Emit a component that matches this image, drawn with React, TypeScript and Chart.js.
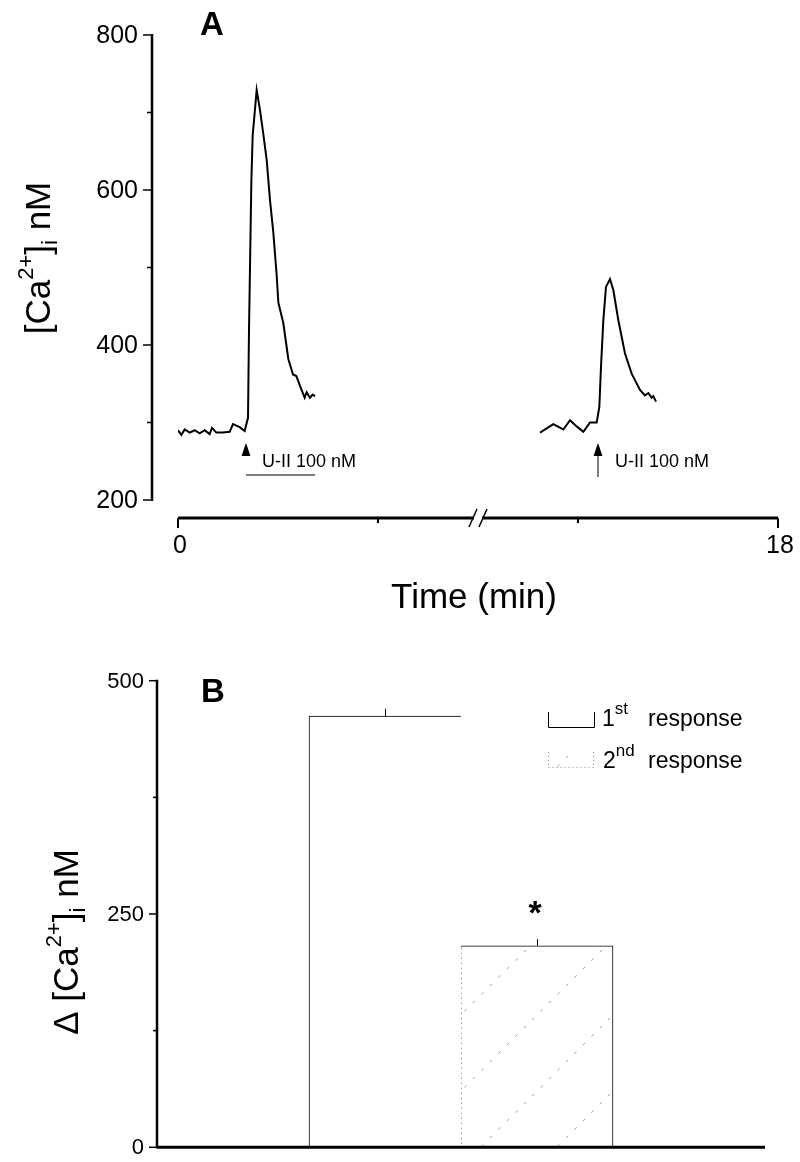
import React, { useEffect, useRef } from "react";
import { Chart, registerables } from "chart.js";
Chart.register(...registerables);

const FONT = "'Liberation Sans', Arial, Helvetica, sans-serif";

// ---------- Panel A data ----------
const trace1Time = [0, 0.1, 0.2, 0.35, 0.5, 0.65, 0.8, 0.95, 1.02, 1.15, 1.35, 1.55, 1.65, 1.85, 2.0, 2.1, 2.13, 2.16, 2.2, 2.24, 2.36, 2.46, 2.56, 2.66, 2.76, 2.86, 2.96, 3.01, 3.16, 3.31, 3.45, 3.55, 3.68, 3.8, 3.86, 3.96, 4.04, 4.11];
const trace1Ca = [290, 284, 291, 287, 290, 286, 290, 285, 293, 287, 287, 288, 298, 294, 289, 306, 420, 500, 610, 670, 729, 703, 672, 639, 587, 545, 490, 455, 428, 382, 362, 360, 345, 332, 339, 332, 336, 334];
const trace2Time = [10.86, 11.26, 11.56, 11.76, 11.96, 12.16, 12.36, 12.56, 12.64, 12.69, 12.76, 12.84, 12.96, 13.06, 13.21, 13.41, 13.61, 13.86, 14.01, 14.11, 14.21, 14.26, 14.34];
const trace2Ca = [287, 298, 291, 303, 295, 288, 300, 300, 320, 372, 432, 475, 485, 471, 432, 389, 363, 342, 335, 338, 332, 334, 327];

const yMajorA = [200, 400, 600, 800];
const yMinorA = [300, 500, 700];
const xMajorA = [0, 18];
const xMinorA = [6, 12];
const xBreakA = 9;
const injectionTimes = [2.04, 12.6];
const injectionLabel = "U-II 100 nM";
const xTitleA = "Time (min)";

// ---------- Panel B data ----------
const barCategories = ["", "1st response", "2nd response", ""];
const barMeans: (number | null)[] = [null, 462, 216, null];
const barErrors: (number | null)[] = [null, 8, 7, null];
const yMajorB = [0, 250, 500];
const yMinorB = [125, 375];

type Part = { t: string; size: number; dy: number; bold?: boolean };

function partsWidth(ctx: CanvasRenderingContext2D, parts: Part[]) {
  let w = 0;
  for (const p of parts) {
    ctx.font = `${p.bold ? "bold " : ""}${p.size}px ${FONT}`;
    w += ctx.measureText(p.t).width;
  }
  return w;
}

function drawParts(ctx: CanvasRenderingContext2D, parts: Part[], x: number, y: number) {
  let cx = x;
  ctx.textAlign = "left";
  ctx.textBaseline = "alphabetic";
  for (const p of parts) {
    ctx.font = `${p.bold ? "bold " : ""}${p.size}px ${FONT}`;
    ctx.fillText(p.t, cx, y + p.dy);
    cx += ctx.measureText(p.t).width;
  }
}

function drawRotatedCentered(ctx: CanvasRenderingContext2D, parts: Part[], baseX: number, centerY: number) {
  ctx.save();
  ctx.translate(baseX, centerY);
  ctx.rotate(-Math.PI / 2);
  const w = partsWidth(ctx, parts);
  drawParts(ctx, parts, -w / 2, 0);
  ctx.restore();
}

function makeHatch(): CanvasPattern | string {
  const s = 76;
  const c = document.createElement("canvas");
  c.width = s;
  c.height = s;
  const g = c.getContext("2d");
  if (!g) return "white";
  g.fillStyle = "white";
  g.fillRect(0, 0, s, s);
  g.strokeStyle = "#a0a0a0";
  g.lineWidth = 1;
  g.setLineDash([3, 9]);
  g.beginPath();
  g.moveTo(0, s);
  g.lineTo(s, 0);
  g.stroke();
  const p = g.createPattern(c, "repeat");
  return p || "white";
}

const pluginA = {
  id: "decorA",
  afterDraw(chart: any) {
    const { ctx, chartArea } = chart;
    const x = chart.scales.x;
    const y = chart.scales.y;
    ctx.save();
    ctx.strokeStyle = "#000";
    ctx.fillStyle = "#000";
    ctx.setLineDash([]);

    // Y axis (detached to the left)
    const axX = chartArea.left - 26;
    ctx.lineWidth = 2.5;
    ctx.beginPath();
    ctx.moveTo(axX, y.getPixelForValue(800) - 1);
    ctx.lineTo(axX, y.getPixelForValue(200) + 1);
    ctx.stroke();
    ctx.lineWidth = 1.5;
    for (const v of yMajorA) {
      const py = y.getPixelForValue(v);
      ctx.beginPath();
      ctx.moveTo(axX - 9, py);
      ctx.lineTo(axX, py);
      ctx.stroke();
    }
    for (const v of yMinorA) {
      const py = y.getPixelForValue(v);
      ctx.beginPath();
      ctx.moveTo(axX - 5, py);
      ctx.lineTo(axX, py);
      ctx.stroke();
    }
    ctx.font = `25px ${FONT}`;
    ctx.textAlign = "right";
    ctx.textBaseline = "middle";
    for (const v of yMajorA) {
      ctx.fillText(String(v), axX - 14, y.getPixelForValue(v) + 1);
    }

    // X axis (detached below), with break
    const axY = y.getPixelForValue(200) + 18;
    const bx = x.getPixelForValue(xBreakA);
    ctx.lineWidth = 3;
    ctx.beginPath();
    ctx.moveTo(x.getPixelForValue(0), axY);
    ctx.lineTo(bx - 4, axY);
    ctx.moveTo(bx + 4, axY);
    ctx.lineTo(x.getPixelForValue(18), axY);
    ctx.stroke();
    ctx.lineWidth = 1.5;
    ctx.beginPath();
    ctx.moveTo(bx - 9, axY + 9);
    ctx.lineTo(bx - 1, axY - 9);
    ctx.moveTo(bx + 1, axY + 9);
    ctx.lineTo(bx + 9, axY - 9);
    ctx.stroke();
    ctx.lineWidth = 2;
    for (const v of xMajorA) {
      const px = x.getPixelForValue(v);
      ctx.beginPath();
      ctx.moveTo(px, axY);
      ctx.lineTo(px, axY + 10);
      ctx.stroke();
    }
    for (const v of xMinorA) {
      const px = x.getPixelForValue(v);
      ctx.beginPath();
      ctx.moveTo(px, axY);
      ctx.lineTo(px, axY + 5);
      ctx.stroke();
    }
    ctx.font = `25px ${FONT}`;
    ctx.textAlign = "center";
    ctx.textBaseline = "middle";
    for (const v of xMajorA) {
      ctx.fillText(String(v), x.getPixelForValue(v) + 2, axY + 28);
    }
    ctx.font = `35px ${FONT}`;
    ctx.fillText(xTitleA, (x.getPixelForValue(0) + x.getPixelForValue(18)) / 2 - 4, axY + 80);

    // Y title
    drawRotatedCentered(
      ctx,
      [
        { t: "[Ca", size: 35, dy: 0 },
        { t: "2+", size: 22, dy: -17 },
        { t: "]", size: 35, dy: 0 },
        { t: "i", size: 22, dy: 7 },
        { t: " nM", size: 35, dy: 0 },
      ],
      50,
      258
    );

    // Panel letter
    ctx.font = `bold 33px ${FONT}`;
    ctx.textAlign = "center";
    ctx.textBaseline = "alphabetic";
    ctx.fillText("A", 212, 35);

    // Injection arrows
    const tipY = y.getPixelForValue(200) - 57;
    injectionTimes.forEach((t, i) => {
      const px = x.getPixelForValue(t);
      ctx.beginPath();
      ctx.moveTo(px, tipY);
      ctx.lineTo(px - 4.5, tipY + 13);
      ctx.lineTo(px + 4.5, tipY + 13);
      ctx.closePath();
      ctx.fill();
      ctx.lineWidth = 1;
      if (i === 1) {
        ctx.beginPath();
        ctx.moveTo(px, tipY + 12);
        ctx.lineTo(px, tipY + 34);
        ctx.stroke();
      } else {
        ctx.beginPath();
        ctx.moveTo(px, tipY + 32);
        ctx.lineTo(px + 69, tipY + 32);
        ctx.stroke();
      }
      ctx.font = `18px ${FONT}`;
      ctx.textAlign = "left";
      ctx.textBaseline = "middle";
      ctx.fillText(injectionLabel, px + (i === 0 ? 16 : 17), tipY + 19);
    });
    ctx.restore();
  },
};

const pluginB = {
  id: "decorB",
  afterDraw(chart: any) {
    const { ctx, chartArea } = chart;
    const x = chart.scales.x;
    const y = chart.scales.y;
    ctx.save();
    ctx.strokeStyle = "#000";
    ctx.fillStyle = "#000";

    const axX = chartArea.left;
    const y0 = y.getPixelForValue(0);
    // axes
    ctx.lineWidth = 2.5;
    ctx.beginPath();
    ctx.moveTo(axX, y.getPixelForValue(500) - 1);
    ctx.lineTo(axX, y0 + 1);
    ctx.stroke();
    ctx.lineWidth = 3;
    ctx.beginPath();
    ctx.moveTo(axX, y0);
    ctx.lineTo(chartArea.right, y0);
    ctx.stroke();
    ctx.lineWidth = 1.5;
    for (const v of yMajorB) {
      const py = y.getPixelForValue(v);
      ctx.beginPath();
      ctx.moveTo(axX - 8, py);
      ctx.lineTo(axX, py);
      ctx.stroke();
    }
    for (const v of yMinorB) {
      const py = y.getPixelForValue(v);
      ctx.beginPath();
      ctx.moveTo(axX - 4, py);
      ctx.lineTo(axX, py);
      ctx.stroke();
    }
    ctx.font = `22px ${FONT}`;
    ctx.textAlign = "right";
    ctx.textBaseline = "middle";
    for (const v of yMajorB) {
      ctx.fillText(String(v), axX - 13, y.getPixelForValue(v) + 1);
    }

    // error bars
    ctx.lineWidth = 1;
    barMeans.forEach((m, i) => {
      const e = barErrors[i];
      if (m == null || e == null) return;
      const px = Math.round(x.getPixelForValue(i)) + 0.5;
      ctx.beginPath();
      ctx.moveTo(px, y.getPixelForValue(m));
      ctx.lineTo(px, y.getPixelForValue(m + e));
      ctx.stroke();
    });

    // dotted left edge of second bar
    const meta = chart.getDatasetMeta(0);
    const bar2 = meta.data[2];
    if (bar2) {
      const left = Math.round(bar2.x - bar2.width / 2) + 0.5;
      ctx.save();
      ctx.strokeStyle = "#777";
      ctx.setLineDash([1, 4]);
      ctx.beginPath();
      ctx.moveTo(left, bar2.y + 2);
      ctx.lineTo(left, y0);
      ctx.stroke();
      ctx.restore();
    }

    // significance star
    ctx.font = `bold 34px ${FONT}`;
    ctx.textAlign = "center";
    ctx.textBaseline = "alphabetic";
    ctx.fillText("*", x.getPixelForValue(2) - 2, y.getPixelForValue(216) - 22);

    // legend
    ctx.lineWidth = 1;
    ctx.beginPath();
    ctx.moveTo(548.5, 72);
    ctx.lineTo(548.5, 87.5);
    ctx.lineTo(594.5, 87.5);
    ctx.lineTo(594.5, 72);
    ctx.stroke();
    ctx.save();
    ctx.fillStyle = chart.$hatch || "white";
    ctx.fillRect(548, 112, 46, 16);
    ctx.strokeStyle = "#888";
    ctx.setLineDash([1, 3]);
    ctx.beginPath();
    ctx.moveTo(548.5, 112);
    ctx.lineTo(548.5, 128);
    ctx.moveTo(548.5, 127.5);
    ctx.lineTo(593.5, 127.5);
    ctx.moveTo(593.5, 112);
    ctx.lineTo(593.5, 128);
    ctx.stroke();
    ctx.restore();
    ctx.fillStyle = "#000";
    drawParts(ctx, [
      { t: "1", size: 23, dy: 0 },
      { t: "st", size: 17, dy: -12 },
    ], 602, 86);
    drawParts(ctx, [
      { t: "2", size: 23, dy: 0 },
      { t: "nd", size: 17, dy: -12 },
    ], 603, 128);
    ctx.font = `23px ${FONT}`;
    ctx.fillText("response", 648, 86);
    ctx.fillText("response", 648, 128);

    // panel letter
    ctx.font = `bold 33px ${FONT}`;
    ctx.textAlign = "center";
    ctx.fillText("B", 213, 62);

    // y title
    drawRotatedCentered(
      ctx,
      [
        { t: "\u0394 [Ca", size: 35, dy: 0 },
        { t: "2+", size: 22, dy: -17 },
        { t: "]", size: 35, dy: 0 },
        { t: "i", size: 22, dy: 7 },
        { t: " nM", size: 35, dy: 0 },
      ],
      78,
      302
    );
    ctx.restore();
  },
};

export default function App() {
  const refA = useRef<HTMLCanvasElement | null>(null);
  const refB = useRef<HTMLCanvasElement | null>(null);

  useEffect(() => {
    document.body.style.margin = "0";
    const charts: Chart[] = [];
    if (refA.current) {
      const chartA = new Chart(refA.current, {
        type: "line",
        data: {
          datasets: [
            {
              data: trace1Time.map((t, i) => ({ x: t, y: trace1Ca[i] })),
              borderColor: "#000",
              borderWidth: 2,
              pointRadius: 0,
              tension: 0,
            },
            {
              data: trace2Time.map((t, i) => ({ x: t, y: trace2Ca[i] })),
              borderColor: "#000",
              borderWidth: 2,
              pointRadius: 0,
              tension: 0,
            },
          ],
        },
        options: {
          responsive: false,
          animation: false,
          layout: { padding: { left: 178, right: 22, top: 35, bottom: 140 } },
          scales: {
            x: { type: "linear", min: 0, max: 18, display: false },
            y: { type: "linear", min: 200, max: 800, display: false },
          },
          plugins: { legend: { display: false }, tooltip: { enabled: false } },
        },
        plugins: [pluginA],
      });
      charts.push(chartA);
    }
    if (refB.current) {
      const hatch = makeHatch();
      const chartB: any = new Chart(refB.current, {
        type: "bar",
        data: {
          labels: barCategories,
          datasets: [
            {
              data: barMeans as any,
              backgroundColor: ["white", "white", hatch as any, "white"],
              borderColor: "#000",
              borderWidth: ((c: any) =>
                c.dataIndex === 1
                  ? { top: 1, left: 1, right: 0, bottom: 0 }
                  : { top: 1, left: 0, right: 1, bottom: 0 }) as any,
              borderSkipped: false,
              barPercentage: 1,
              categoryPercentage: 1,
            },
          ],
        },
        options: {
          responsive: false,
          animation: false,
          layout: { padding: { left: 157, right: 35, top: 40.7, bottom: 14.7 } },
          scales: {
            x: { type: "category", display: false },
            y: { type: "linear", min: 0, max: 500, display: false },
          },
          plugins: { legend: { display: false }, tooltip: { enabled: false } },
        },
        plugins: [pluginB],
      });
      chartB.$hatch = hatch;
      chartB.draw();
      charts.push(chartB);
    }
    return () => {
      charts.forEach((c) => c.destroy());
    };
  }, []);

  return (
    <div style={{ position: "absolute", left: 0, top: 0, width: 800, height: 1162, background: "white" }}>
      <canvas ref={refA} width={800} height={640} style={{ position: "absolute", left: 0, top: 0, display: "block" }} />
      <canvas ref={refB} width={800} height={522} style={{ position: "absolute", left: 0, top: 640, display: "block" }} />
    </div>
  );
}
